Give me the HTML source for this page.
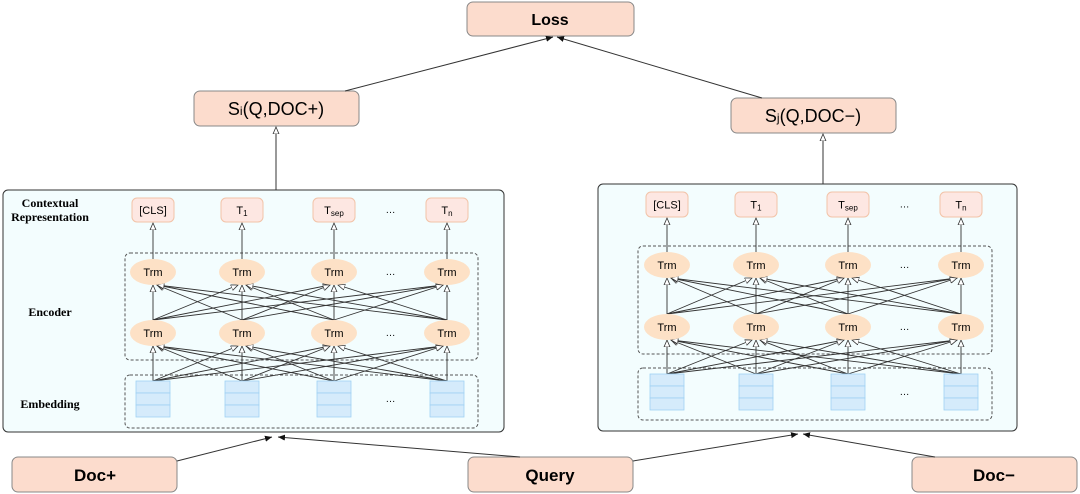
<!DOCTYPE html>
<html><head><meta charset="utf-8"><style>
html,body{margin:0;padding:0;background:#fff;}
svg{display:block;font-family:"Liberation Sans",sans-serif;}
</style></head><body>
<svg id="s" width="1080" height="494" viewBox="0 0 1080 494" xmlns="http://www.w3.org/2000/svg">
<defs>
<marker id="a" markerWidth="8" markerHeight="8" refX="7" refY="4" orient="auto" markerUnits="userSpaceOnUse"><path d="M0,1 L7,4 L0,7 Z" fill="#111"/></marker>
<marker id="o" markerWidth="8" markerHeight="8" refX="7" refY="3.5" orient="auto" markerUnits="userSpaceOnUse"><path d="M0,0.5 L7,3.5 L0,6.5 Z" fill="#fff" stroke="#333" stroke-width="0.8"/></marker>
</defs>
<g id="bg"></g>
<rect x="467" y="2" width="167" height="34" rx="6" fill="#fcdccd" stroke="#888"/>
<text x="550" y="25" text-anchor="middle" font-size="16" font-weight="bold">Loss</text>
<rect x="194" y="91" width="165" height="35" rx="6" fill="#fcdccd" stroke="#888"/>
<text x="276" y="115" text-anchor="middle" font-size="18">S<tspan font-size="12">i</tspan>(Q,DOC+)</text>
<rect x="731" y="98" width="165" height="35" rx="6" fill="#fcdccd" stroke="#888"/>
<text x="813" y="122" text-anchor="middle" font-size="18">S<tspan font-size="12">j</tspan>(Q,DOC−)</text>
<line x1="345" y1="91" x2="553" y2="37" stroke="#333" marker-end="url(#a)"/>
<line x1="762" y1="98" x2="557" y2="37" stroke="#333" marker-end="url(#a)"/>
<line x1="276" y1="190" x2="276" y2="127" stroke="#333" marker-end="url(#o)"/>
<line x1="823" y1="184" x2="823" y2="134" stroke="#333" marker-end="url(#o)"/>
<rect x="12" y="457" width="165" height="35" rx="6" fill="#fcdccd" stroke="#888"/>
<text x="95" y="481" text-anchor="middle" font-size="17" font-weight="bold">Doc+</text>
<rect x="468" y="457" width="165" height="35" rx="6" fill="#fcdccd" stroke="#888"/>
<text x="550" y="481" text-anchor="middle" font-size="17" font-weight="bold">Query</text>
<rect x="912" y="457" width="165" height="35" rx="6" fill="#fcdccd" stroke="#888"/>
<text x="994" y="481" text-anchor="middle" font-size="17" font-weight="bold">Doc−</text>
<line x1="177" y1="461" x2="272" y2="437" stroke="#333" marker-end="url(#a)"/>
<line x1="520" y1="457" x2="278" y2="437" stroke="#333" marker-end="url(#a)"/>
<line x1="633" y1="461" x2="798" y2="434" stroke="#333" marker-end="url(#a)"/>
<line x1="935" y1="457" x2="803" y2="434" stroke="#333" marker-end="url(#a)"/>
<g font-family="Liberation Serif,serif" font-weight="bold" font-size="12" text-anchor="middle">
<text x="50" y="207">Contextual</text>
<text x="50" y="221">Representation</text>
<text x="50" y="316">Encoder</text>
<text x="50" y="408">Embedding</text>
</g>
<g id="g"></g>
</svg>
<script>
var NS="http://www.w3.org/2000/svg",g=document.getElementById('g'),bg=document.getElementById('bg');
function el(p,t,a,txt){var e=document.createElementNS(NS,t);for(var k in a)e.setAttribute(k,a[k]);if(txt!==undefined)e.innerHTML=txt;p.appendChild(e);return e;}
function panel(P){
 el(bg,'rect',{x:P.x,y:P.y,width:P.w,height:P.h,rx:5,fill:'#f3fdfe',stroke:'#333','stroke-width':1});
 el(g,'rect',{x:P.dx0,y:P.ey0,width:P.dx1-P.dx0,height:P.ey1-P.ey0,rx:5,fill:'none',stroke:'#555','stroke-dasharray':'3,2'});
 el(g,'rect',{x:P.dx0,y:P.my0,width:P.dx1-P.dx0,height:P.my1-P.my0,rx:5,fill:'none',stroke:'#555','stroke-dasharray':'3,2'});
 var labs=['[CLS]','T<tspan font-size="8" dy="2">1</tspan>','T<tspan font-size="8" dy="2">sep</tspan>','T<tspan font-size="8" dy="2">n</tspan>'];
 var cx=P.cx;
 var src=[P.my0+6,P.r2-13];var dst=[P.r2+13,P.r1+13];
 for(var r=0;r<2;r++)for(var i=0;i<4;i++)for(var j=0;j<4;j++){
   var off=(i==j)?0:(i<j?-4:4);
   el(g,'line',{x1:cx[i],y1:src[r],x2:cx[j]+off,y2:dst[r],stroke:'#333','stroke-width':0.9,'marker-end':'url(#o)'});
 }
 for(var i=0;i<4;i++){
   el(g,'line',{x1:cx[i],y1:P.r1-13,x2:cx[i],y2:P.ty+P.th+1,stroke:'#333','stroke-width':0.9,'marker-end':'url(#o)'});
   el(g,'rect',{x:cx[i]-21,y:P.ty,width:42,height:P.th,rx:5,fill:'#fde7e2',stroke:'#f2c3a8'});
   el(g,'text',{x:cx[i],y:P.ty+P.th/2+4,'text-anchor':'middle','font-size':11},labs[i]);
   [P.r1,P.r2].forEach(function(y){
     el(g,'ellipse',{cx:cx[i],cy:y,rx:23,ry:13,fill:'#fde1c6'});
     el(g,'text',{x:cx[i],y:y+4,'text-anchor':'middle','font-size':11},'Trm');
   });
   for(var k=0;k<3;k++) el(g,'rect',{x:cx[i]-17,y:P.my0+6+k*12,width:34,height:12,fill:'#d5ebfb',stroke:'#9fd1f3','stroke-width':0.8});
 }
 var dx=(cx[2]+cx[3])/2;
 [P.ty+P.th/2+3,P.r1+3,P.r2+3,P.my0+27].forEach(function(y){el(g,'text',{x:dx,y:y,'text-anchor':'middle','font-size':10},'…');});
}
panel({x:3,y:190,w:501,h:242,dx0:125,dx1:478,ey0:253,ey1:360,my0:375,my1:428,cx:[153,242,334,447],ty:198,th:24,r1:272,r2:333});
panel({x:598,y:184,w:419,h:247,dx0:638,dx1:992,ey0:246,ey1:354,my0:368,my1:420,cx:[667,756,848,961],ty:192,th:25,r1:265,r2:327});
</script>
</body></html>
